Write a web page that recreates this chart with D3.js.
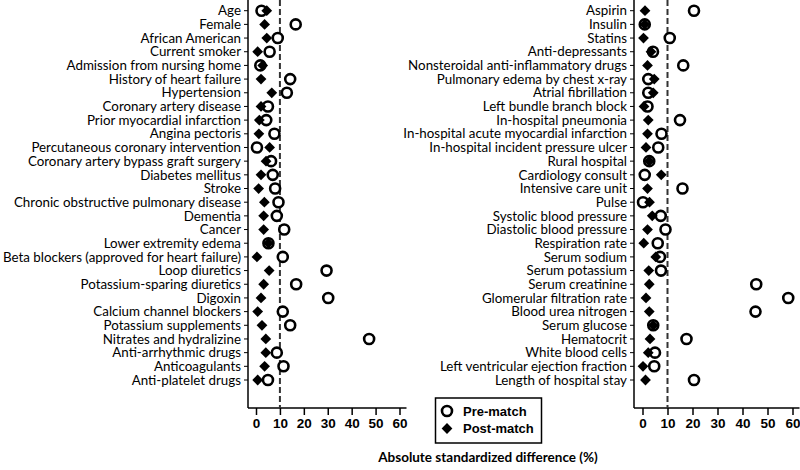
<!DOCTYPE html>
<html><head><meta charset="utf-8">
<script src="https://cdn.jsdelivr.net/npm/d3@7"></script>
<style>
html,body{margin:0;padding:0;background:#fff;}
svg{display:block;}
</style></head>
<body>
<svg id="chart" width="800" height="470"></svg>
<script>
const leftLabels = ["Age","Female","African American","Current smoker","Admission from nursing home","History of heart failure","Hypertension","Coronary artery disease","Prior myocardial infarction","Angina pectoris","Percutaneous coronary intervention","Coronary artery bypass graft surgery","Diabetes mellitus","Stroke","Chronic obstructive pulmonary disease","Dementia","Cancer","Lower extremity edema","Beta blockers (approved for heart failure)","Loop diuretics","Potassium-sparing diuretics","Digoxin","Calcium channel blockers","Potassium supplements","Nitrates and hydralizine","Anti-arrhythmic drugs","Anticoagulants","Anti-platelet drugs"];
const leftPre  = [2.3,16.6,9.1,5.7,1.8,14.3,12.9,5.0,4.3,7.7,0.4,6.3,7.0,8.0,9.4,8.7,11.8,5.2,11.2,29.5,16.8,30.2,11.2,14.3,47.3,8.7,11.5,5.0];
const leftPost = [4.5,3.6,4.5,0.7,2.8,2.1,6.6,2.1,1.4,1.2,5.7,4.2,2.1,1.1,3.5,3.2,3.2,5.2,0.4,5.5,3.2,2.1,0.7,2.5,4.1,4.1,3.6,0.7];

const rightLabels = ["Aspirin","Insulin","Statins","Anti-depressants","Nonsteroidal anti-inflammatory drugs","Pulmonary edema by chest x-ray","Atrial fibrillation","Left bundle branch block","In-hospital pneumonia","In-hospital acute myocardial infarction","In-hospital incident pressure ulcer","Rural hospital","Cardiology consult","Intensive care unit","Pulse","Systolic blood pressure","Diastolic blood pressure","Respiration rate","Serum sodium","Serum potassium","Serum creatinine","Glomerular filtration rate","Blood urea nitrogen","Serum glucose","Hematocrit","White blood cells","Left ventricular ejection fraction","Length of hospital stay"];
const rightPre  = [20.6,0.9,10.9,4.2,16.3,2.3,2.3,2.0,15.0,7.6,6.3,2.7,0.9,16.0,0.2,7.3,9.2,6.1,7.0,7.4,45.5,58.3,45.2,4.3,17.6,5.0,4.7,20.6];
const rightPost = [1.0,0.9,0.4,3.4,2.0,4.7,4.3,0.6,2.3,2.0,1.4,2.7,7.5,2.0,2.8,3.9,2.0,0.5,5.3,2.5,2.7,1.4,2.7,4.3,3.0,2.3,0.2,1.2];

const xTicks = [0,10,20,30,40,50,60];
const threshold = 10;
const legendLabels = ["Pre-match","Post-match"];
const xTitle = "Absolute standardized difference (%)";

const svg = d3.select("#chart");
const labelFont = "Lato, 'Open Sans', sans-serif";
const boldFont = "'Liberation Sans', Arial, sans-serif";

function panel(labels, pre, post, axisX, x0, x60) {
  const g = svg.append("g");
  const x = d3.scaleLinear().domain([0,60]).range([x0, x60]);
  const y = d3.scaleLinear().domain([0, labels.length-1]).range([10.7, 380]);
  const axisBottom = 408;
  g.append("line").attr("x1",axisX).attr("x2",axisX).attr("y1",0).attr("y2",axisBottom)
    .attr("stroke","#000").attr("stroke-width",1.5);
  labels.forEach((lab,i)=>{
    g.append("line").attr("x1",axisX-4).attr("x2",axisX).attr("y1",y(i)).attr("y2",y(i))
      .attr("stroke","#000").attr("stroke-width",1);
    g.append("text").attr("x",axisX-7).attr("y",y(i)).attr("dy","0.35em")
      .attr("text-anchor","end").attr("font-family",labelFont).attr("font-size",13.35)
      .attr("fill","#000").text(lab);
  });
  g.append("line").attr("x1",axisX).attr("x2",x(60)+7).attr("y1",axisBottom).attr("y2",axisBottom)
    .attr("stroke","#000").attr("stroke-width",1.5);
  const xa = g.append("g").attr("transform",`translate(0,${axisBottom})`)
    .call(d3.axisBottom(x).tickValues(xTicks).tickSize(7).tickPadding(3).tickFormat(d3.format("d")));
  xa.select(".domain").remove();
  xa.selectAll("line").attr("stroke","#000").attr("stroke-width",1.5);
  xa.selectAll("text").attr("font-family",boldFont).attr("font-weight","bold").attr("font-size",13.5).attr("fill","#000");
  g.append("line").attr("x1",x(threshold)).attr("x2",x(threshold)).attr("y1",0).attr("y2",axisBottom)
    .attr("stroke","#333").attr("stroke-width",2).attr("stroke-dasharray","6,3");
  g.selectAll("circle.pre").data(pre).join("circle").attr("class","pre")
    .attr("cx",d=>x(d)).attr("cy",(d,i)=>y(i)).attr("r",5)
    .attr("fill","#fff").attr("stroke","#000").attr("stroke-width",2.6);
  const sym = d3.symbol().type(d3.symbolSquare).size(58);
  g.selectAll("path.post").data(post).join("path").attr("class","post")
    .attr("d",sym).attr("transform",(d,i)=>`translate(${x(d)},${y(i)}) rotate(45)`)
    .attr("fill","#000");
}

panel(leftLabels, leftPre, leftPost, 248, 256, 399.5);
panel(rightLabels, rightPre, rightPost, 634, 642.5, 792.5);

const lg = svg.append("g");
lg.append("rect").attr("x",435.5).attr("y",398).attr("width",106).attr("height",45)
  .attr("fill","#fff").attr("stroke","#000").attr("stroke-width",1.5);
lg.append("circle").attr("cx",447).attr("cy",411).attr("r",5).attr("fill","#fff").attr("stroke","#000").attr("stroke-width",2.6);
lg.append("path").attr("d",d3.symbol().type(d3.symbolSquare).size(58)).attr("transform","translate(447,428.5) rotate(45)").attr("fill","#000");
legendLabels.forEach((t,i)=>{
  lg.append("text").attr("x",463).attr("y",411+i*17.5).attr("dy","0.35em")
    .attr("font-family",boldFont).attr("font-weight","bold").attr("font-size",13).attr("fill","#000").text(t);
});

svg.append("text").attr("x",488).attr("y",457).attr("dy","0.35em").attr("text-anchor","middle")
  .attr("font-family",labelFont).attr("font-weight","bold").attr("font-size",13.5).attr("fill","#000").text(xTitle);
</script>
</body></html>
